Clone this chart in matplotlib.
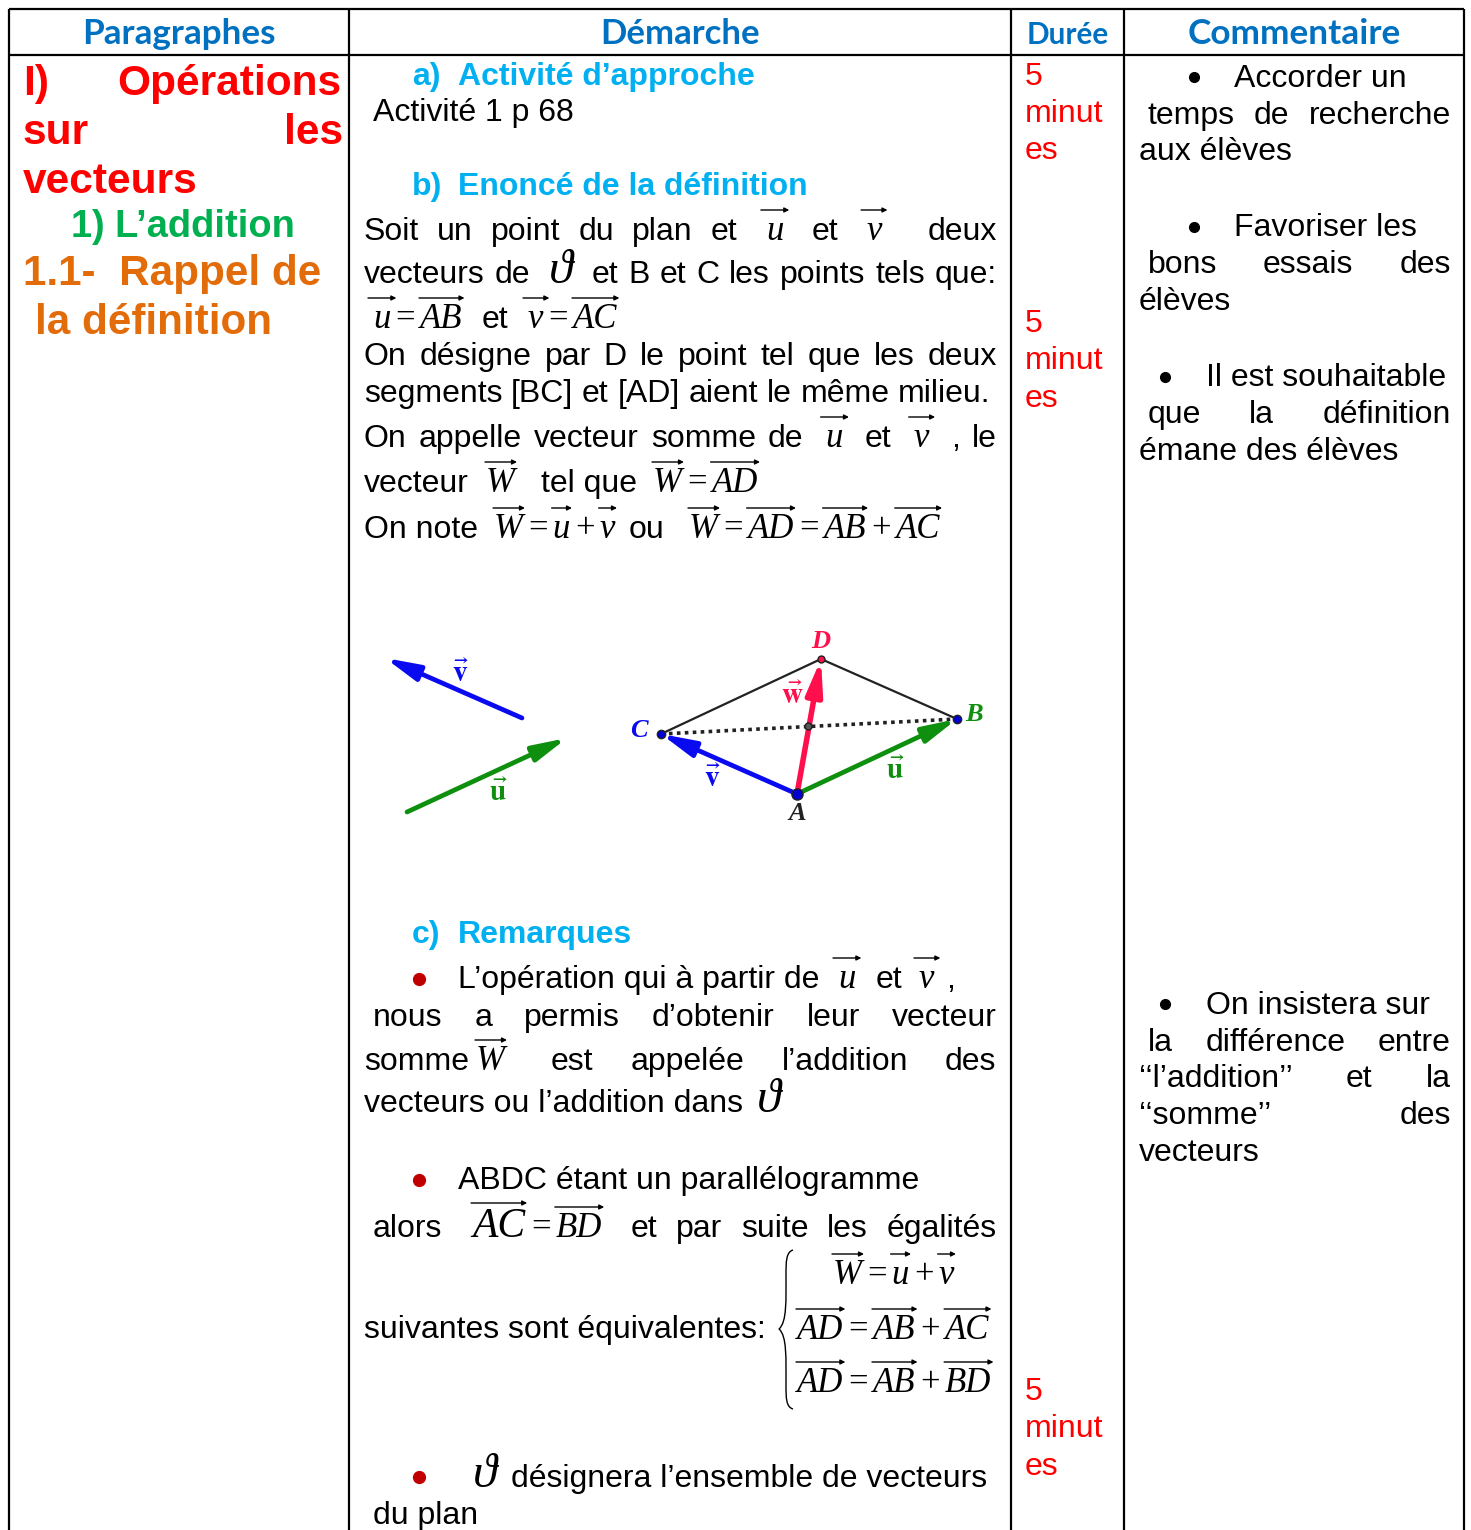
import matplotlib
matplotlib.use("Agg")
import matplotlib.pyplot as plt
from matplotlib.path import Path
from matplotlib.patches import PathPatch

plt.rcParams["mathtext.fontset"] = "stix"

W, H = 1471, 1530
BODY = "Liberation Sans"
SERIF = "Liberation Serif"
HEAD = "Lato"
BLUE_HEAD = "#0070C0"
CYAN = "#00B0F0"
RED = "#FF0000"
GREEN = "#00B050"
ORANGE = "#E36C0A"

col_x = [9, 349, 1011, 1124, 1464]
row_y = [9, 55]
headers = ["Paragraphes", "Démarche", "Durée", "Commentaire"]
header_x = [179, 680, 1068, 1294]
header_sizes = [25.2, 25, 21.4, 25.4]

# (text, x, baseline, colour, size)
first_col = [
    ("I)", 23, 95, RED, 30.6),
    ("Opérations", 117, 95, RED, 30.6),
    ("sur", 23, 144, RED, 30.6),
    ("les", 284, 144, RED, 30.6),
    ("vecteurs", 23, 193, RED, 30.6),
    ("1) L’addition", 71, 237, GREEN, 27.4),
    ("1.1-  Rappel de", 23, 285, ORANGE, 30.4),
    ("la définition", 35, 334, ORANGE, 30.4),
]
subtitles = [("a)", "Activité d’approche", 85), ("b)", "Enoncé de la définition", 195), ("c)", "Remarques", 943)]

# words starting with m: are formula groups
# ^ vector with long arrow, ~ vector with short arrow, ^^ big vector, @ the set symbol
justified_mid = [
    (364, 997, 240, ["Soit", "un", "point", "du", "plan", "et", "m:^u", "et", "m:^v", "", "deux"]),
    (364, 997, 283, ["vecteurs", "de", "m:@", "et", "B", "et", "C", "les", "points", "tels", "que:"]),
    (364, 997, 365, ["On", "désigne", "par", "D", "le", "point", "tel", "que", "les", "deux"]),
    (364, 991, 402, ["segments", "[BC]", "et", "[AD]", "aient", "le", "même", "milieu."]),
    (364, 997, 447, ["On", "appelle", "vecteur", "somme", "de", "m:^u", "et", "m:^v", ",", "le"]),
    (373, 997, 1026, ["nous", "a", "permis", "d’obtenir", "leur", "vecteur"]),
    (373, 997, 1237, ["alors", "m:^^AC = ^BD", "et", "par", "suite", "les", "égalités"]),
]
free_mid = [
    ("Activité 1 p 68", 373, 121),
    ("m:^u = ^AB", 372, 328),
    ("et", 482, 328),
    ("m:^v = ^AC", 527, 328),
    ("vecteur", 364, 492),
    ("m:^W", 485, 492),
    ("tel que", 541, 492),
    ("m:^W = ^AD", 652, 492),
    ("On note", 364, 538),
    ("m:^W = ~u + ~v", 493, 538),
    ("ou", 629, 538),
    ("m:^W = ^AD = ^AB + ^AC", 688, 538),
    ("L’opération qui à partir de", 458, 988),
    ("m:^u", 837, 988),
    ("et", 876, 988),
    ("m:^v", 918, 988),
    (",", 946, 988),
    ("somme", 364, 1070),
    ("m:^W", 475, 1070),
    ("est", 551, 1070),
    ("appelée", 631, 1070),
    ("l’addition", 782, 1070),
    ("des", 945, 1070),
    ("vecteurs ou l’addition dans", 364, 1112),
    ("m:@", 757, 1112),
    ("ABDC étant un parallélogramme", 458, 1189),
    ("suivantes sont équivalentes:", 364, 1338),
    ("m:^W = ~u + ~v", 832, 1284),
    ("m:^AD = ^AB + ^AC", 796, 1339),
    ("m:^AD = ^AB + ^BD", 796, 1392),
    ("m:@", 473, 1487),
    ("désignera l’ensemble de vecteurs", 511, 1487),
    ("du plan", 373, 1524),
]
red_bullets = [(419, 979), (419, 1180), (419, 1477)]

duree_text = ["5", "minut", "es"]
duree_base = [[85, 122, 159], [332, 369, 407], [1400, 1437, 1475]]

comment_justified = [
    (1148, 1451, 124, ["temps", "de", "recherche"]),
    (1148, 1451, 273, ["bons", "essais", "des"]),
    (1148, 1451, 423, ["que", "la", "définition"]),
    (1148, 1451, 1051, ["la", "différence", "entre"]),
    (1139, 1451, 1087, ["‘‘l’addition’’", "et", "la"]),
    (1139, 1451, 1124, ["‘‘somme’’", "des"]),
]
comment_free = [
    ("Accorder un", 1234, 87), ("aux élèves", 1139, 160),
    ("Favoriser les", 1234, 236), ("élèves", 1139, 310),
    ("Il est souhaitable", 1206, 386), ("émane des élèves", 1139, 460),
    ("On insistera sur", 1206, 1014), ("vecteurs", 1139, 1161),
]
black_bullets = [(1194, 77), (1194, 227), (1165, 377), (1165, 1004)]

# figure points, read in picture pixels
pt_A = (797, 794)
pt_B = (957, 719)
pt_C = (661, 734)
pt_D = (821, 659)
pt_M = (808, 726)
free_v = [(522, 718), (385, 658)]
free_u = [(407, 812), (567, 738)]
fig_blue = "#0A0AF0"
fig_green = "#0E8F0E"
fig_red = "#FF0F4B"

fig = plt.figure(figsize=(W / 100, H / 100), dpi=100)
ax = fig.add_axes([0, 0, 1, 1])
ax.set_xlim(0, W)
ax.set_ylim(H, 0)
ax.axis("off")
renderer = fig.canvas.get_renderer()


def measure(s, **kw):
    t = ax.text(0, 100, s, **kw)
    w = t.get_window_extent(renderer).width
    t.remove()
    return w


def math_parts(s, size=25):
    parts = []
    for tok in s.split():
        if tok == "@":
            kw = dict(fontsize=size + 10, family=SERIF, style="italic")
            txt = "ϑ"
            pad = 0
        elif tok[:2] == "^^":
            kw = dict(fontsize=size + 5, family=SERIF, style="italic")
            txt = tok[2:]
            pad = 2
        elif tok[0] in "^~":
            kw = dict(fontsize=size, family=SERIF, style="italic")
            txt = tok[1:]
            pad = 1
        else:
            kw = dict(fontsize=size, family=SERIF)
            txt = tok
            pad = 4
        parts.append((tok, txt, kw, pad, measure(txt, **kw)))
    return parts


def word_width(word, size=23):
    if word.startswith("m:"):
        return sum(p[4] + 2 * p[3] for p in math_parts(word[2:]))
    if word == "":
        return 0
    return measure(word, fontsize=size, family=BODY)


def draw_word(word, x, y, size=23, color="black"):
    if not word:
        return
    if not word.startswith("m:"):
        ax.text(x - 0.2, y, word, fontsize=size, family=BODY, color=color, va="baseline")
        return
    for tok, txt, kw, pad, w in math_parts(word[2:]):
        x += pad
        ax.text(x, y, txt, va="baseline", color="black", **kw)
        if tok[0] in "^~":
            extra = 4 if (tok[0] == "^" and txt.islower()) else 0
            rise = 34 if tok[:2] == "^^" else 30
            ax.annotate("", xy=(x + w + 2 + extra, y - rise), xytext=(x - 1 - extra, y - rise),
                        arrowprops=dict(arrowstyle="-|>", lw=1, color="black",
                                        mutation_scale=7, shrinkA=0, shrinkB=0))
        x += w + pad


def justify(x0, x1, y, words, margin=9):
    widths = [word_width(w) for w in words]
    margins = [margin if w.startswith("m:") else 0 for w in words]
    total = sum(widths) + 2 * sum(margins)
    gap = (x1 - x0 - total) / (len(words) - 1)
    x = x0
    for w, ww, m in zip(words, widths, margins):
        draw_word(w, x + m, y)
        x += ww + 2 * m + gap


# table rules
for x in col_x:
    ax.plot([x, x], [row_y[0], H], color="black", lw=1.6, solid_capstyle="butt")
for y in row_y:
    ax.plot([col_x[0], col_x[-1]], [y, y], color="black", lw=1.6, solid_capstyle="butt")

for name, x, size in zip(headers, header_x, header_sizes):
    ax.text(x, 44, name, fontsize=size, family=HEAD, weight="bold", color=BLUE_HEAD,
            ha="center", va="baseline")

for txt, x, y, c, s in first_col:
    ax.text(x, y, txt, fontsize=s, family=BODY, weight="bold", color=c, va="baseline")

for lab, txt, y in subtitles:
    ax.text(412, y, lab, fontsize=23, family=BODY, weight="bold", color=CYAN, va="baseline")
    ax.text(458, y, txt, fontsize=23, family=BODY, weight="bold", color=CYAN, va="baseline")

for x0, x1, y, words in justified_mid:
    justify(x0, x1, y, words)
for txt, x, y in free_mid:
    draw_word(txt, x, y)

for x, y in red_bullets:
    ax.plot(x, y, "o", color="#C00000", ms=8.5)
for x, y in black_bullets:
    ax.plot(x, y, "o", color="black", ms=7)

# big left brace of the system
brace = Path([(793, 1250), (786, 1252), (786, 1262), (786, 1275),
              (786, 1300), (787, 1322), (779, 1329),
              (787, 1336), (786, 1358), (786, 1385),
              (786, 1398), (786, 1407), (793, 1409)],
             [Path.MOVETO, Path.CURVE4, Path.CURVE4, Path.CURVE4,
              Path.CURVE4, Path.CURVE4, Path.CURVE4,
              Path.CURVE4, Path.CURVE4, Path.CURVE4,
              Path.CURVE4, Path.CURVE4, Path.CURVE4])
ax.add_patch(PathPatch(brace, fill=False, lw=1, edgecolor="black"))

for bases in duree_base:
    for txt, y in zip(duree_text, bases):
        ax.text(1025, y, txt, fontsize=23, family=BODY, color=RED, va="baseline")

for x0, x1, y, words in comment_justified:
    justify(x0, x1, y, words)
for txt, x, y in comment_free:
    draw_word(txt, x, y)


# geometry figure
def arrow(p, q, color, lw=3.4):
    ax.annotate("", xy=q, xytext=p,
                arrowprops=dict(arrowstyle="-|>,head_length=0.85,head_width=0.2", lw=lw, color=color,
                                mutation_scale=24, shrinkA=0, shrinkB=0))


ax.plot([pt_C[0], pt_D[0], pt_B[0]], [pt_C[1], pt_D[1], pt_B[1]], color="#222222", lw=1.6)
ax.plot([pt_C[0], pt_B[0]], [pt_C[1], pt_B[1]], color="#222222", lw=2.6, ls=(0, (1, 1.2)))
arrow(free_v[0], free_v[1], fig_blue)
arrow(free_u[0], free_u[1], fig_green)
arrow(pt_A, pt_C, fig_blue)
arrow(pt_A, pt_B, fig_green)
arrow(pt_A, pt_D, fig_red, lw=4)
for p, c, ms in [(pt_A, "#0000D0", 8), (pt_B, "#0000D0", 6), (pt_C, "#0000D0", 6),
                 (pt_D, fig_red, 5), (pt_M, "#555555", 5)]:
    ax.plot(p[0], p[1], "o", color=c, ms=ms, mec="#222222", mew=1, zorder=6)

fig_labels = [
    ("D", 821, 641, fig_red, 19), ("B", 974, 714, fig_green, 19), ("C", 639, 730, fig_blue, 19),
    ("A", 797, 813, "#222222", 19),
    (r"$\vec{\mathbf{w}}$", 792, 696, fig_red, 21), (r"$\vec{\mathbf{v}}$", 713, 779, fig_blue, 21),
    (r"$\vec{\mathbf{u}}$", 895, 771, fig_green, 21), (r"$\vec{\mathbf{v}}$", 461, 674, fig_blue, 21),
    (r"$\vec{\mathbf{u}}$", 498, 793, fig_green, 21),
]
for txt, x, y, c, s in fig_labels:
    ax.text(x, y, txt, fontsize=s, family=SERIF, style="italic", weight="bold", color=c,
            ha="center", va="center")

fig.savefig("out.png", dpi=100)
